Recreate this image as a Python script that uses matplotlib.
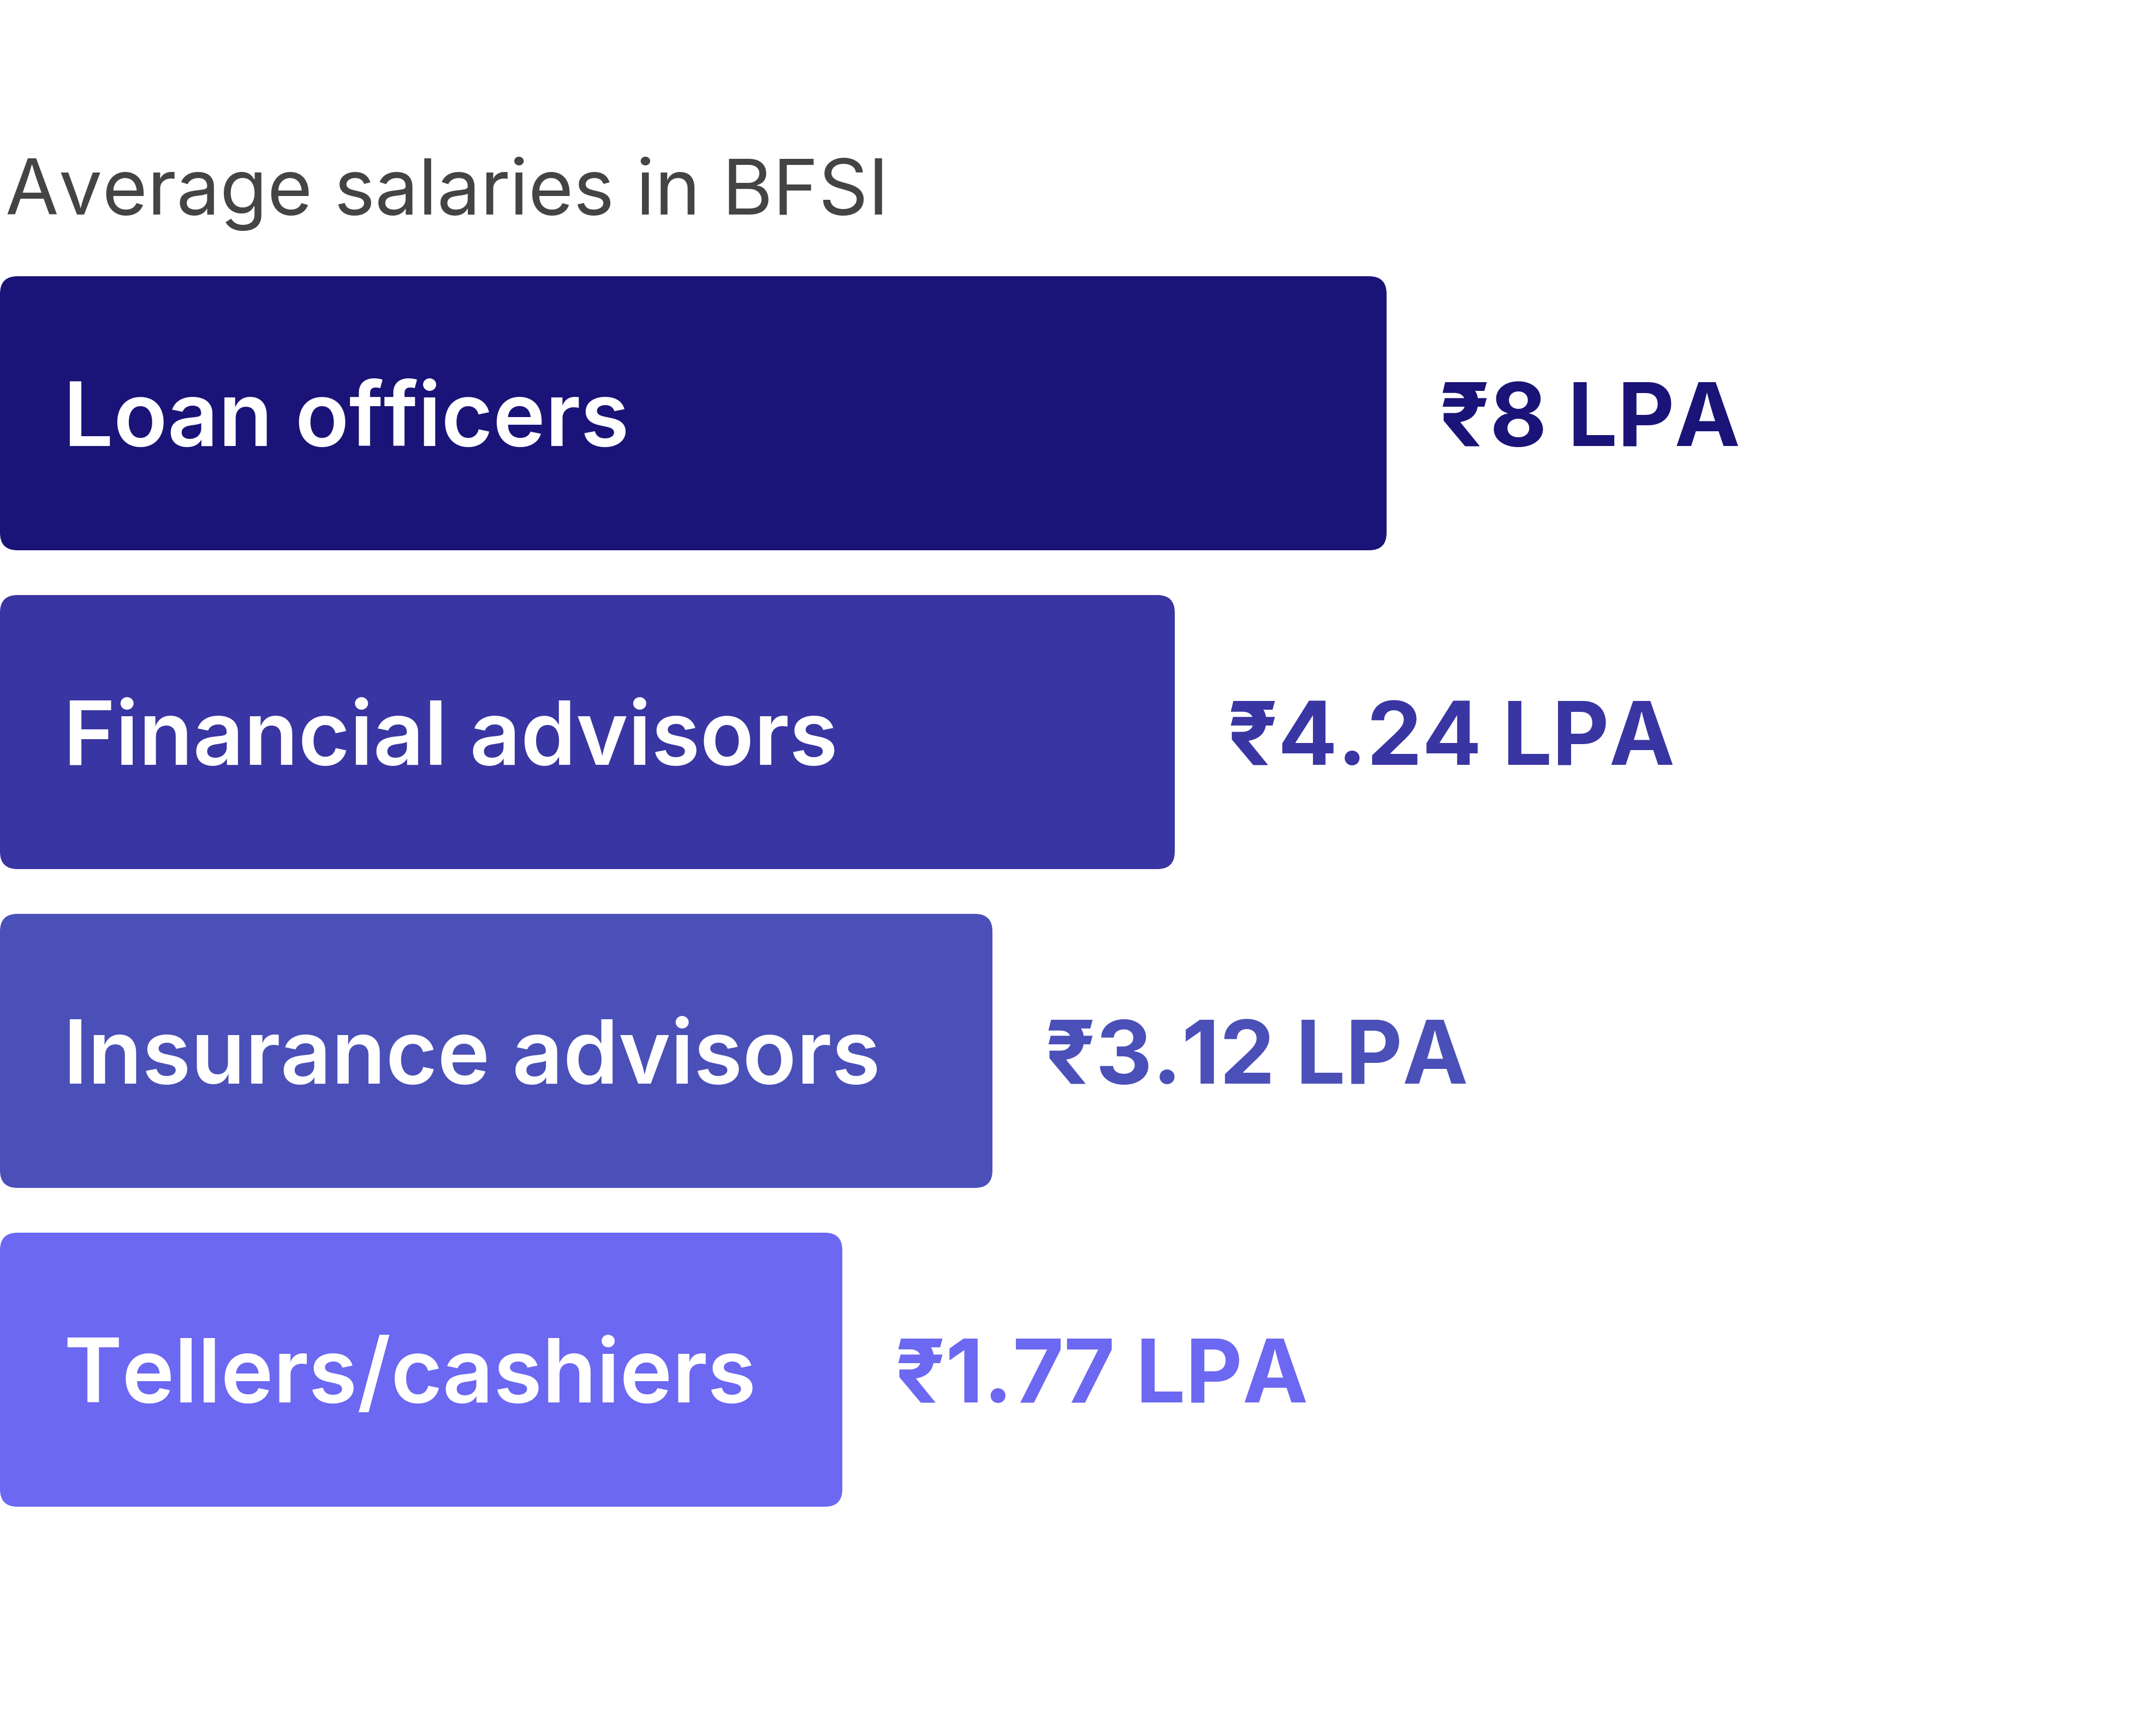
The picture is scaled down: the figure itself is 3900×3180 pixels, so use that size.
import matplotlib
matplotlib.use("Agg")
import matplotlib.pyplot as plt
from matplotlib.patches import FancyBboxPatch

# ---- data ----
categories = ["Loan officers", "Financial advisors", "Insurance advisors", "Tellers/cashiers"]
salaries_lpa = [8, 4.24, 3.12, 1.77]
value_labels = ["₹8 LPA", "₹4.24 LPA", "₹3.12 LPA", "₹1.77 LPA"]
# bar lengths as drawn in the reference (not proportional to salary), in px units
bar_lengths = [2540, 2152, 1818, 1543]
bar_colors = ["#1A1478", "#3935A2", "#4A50B8", "#6C68F1"]
title = "Average salaries in BFSI"

plt.rcParams['font.family'] = ['Inter', 'DejaVu Sans']

W, H = 3900, 3180
fig = plt.figure(figsize=(W / 100, H / 100), dpi=100)
ax = fig.add_axes([0, 0, 1, 1])
pitch = 584.0
first_center = 757.0
ax.set_xlim(0, W)
ax.set_ylim((H - first_center) / pitch, -first_center / pitch)
ax.axis('off')

bar_h = 502.0 / pitch
radius = 32
for i, (cat, length, col, lab) in enumerate(zip(categories, bar_lengths, bar_colors, value_labels)):
    p = FancyBboxPatch((0, i - bar_h / 2), length, bar_h,
                       boxstyle=f"round,pad=0,rounding_size={radius}",
                       mutation_aspect=1 / pitch,
                       facecolor=col, edgecolor='none')
    ax.add_patch(p)
    base = i + 60 / pitch
    ax.text(116, base, cat, color='white', fontsize=117, fontweight='semibold',
            ha='left', va='baseline')
    ax.text(length + 97, base, lab, color=col, fontsize=116, fontweight='bold',
            ha='left', va='baseline')

fig.text(10 / W, 1 - 393 / H, title, color='#444444', fontsize=102,
         ha='left', va='baseline')

fig.savefig("out.png", dpi=100, facecolor='white')
